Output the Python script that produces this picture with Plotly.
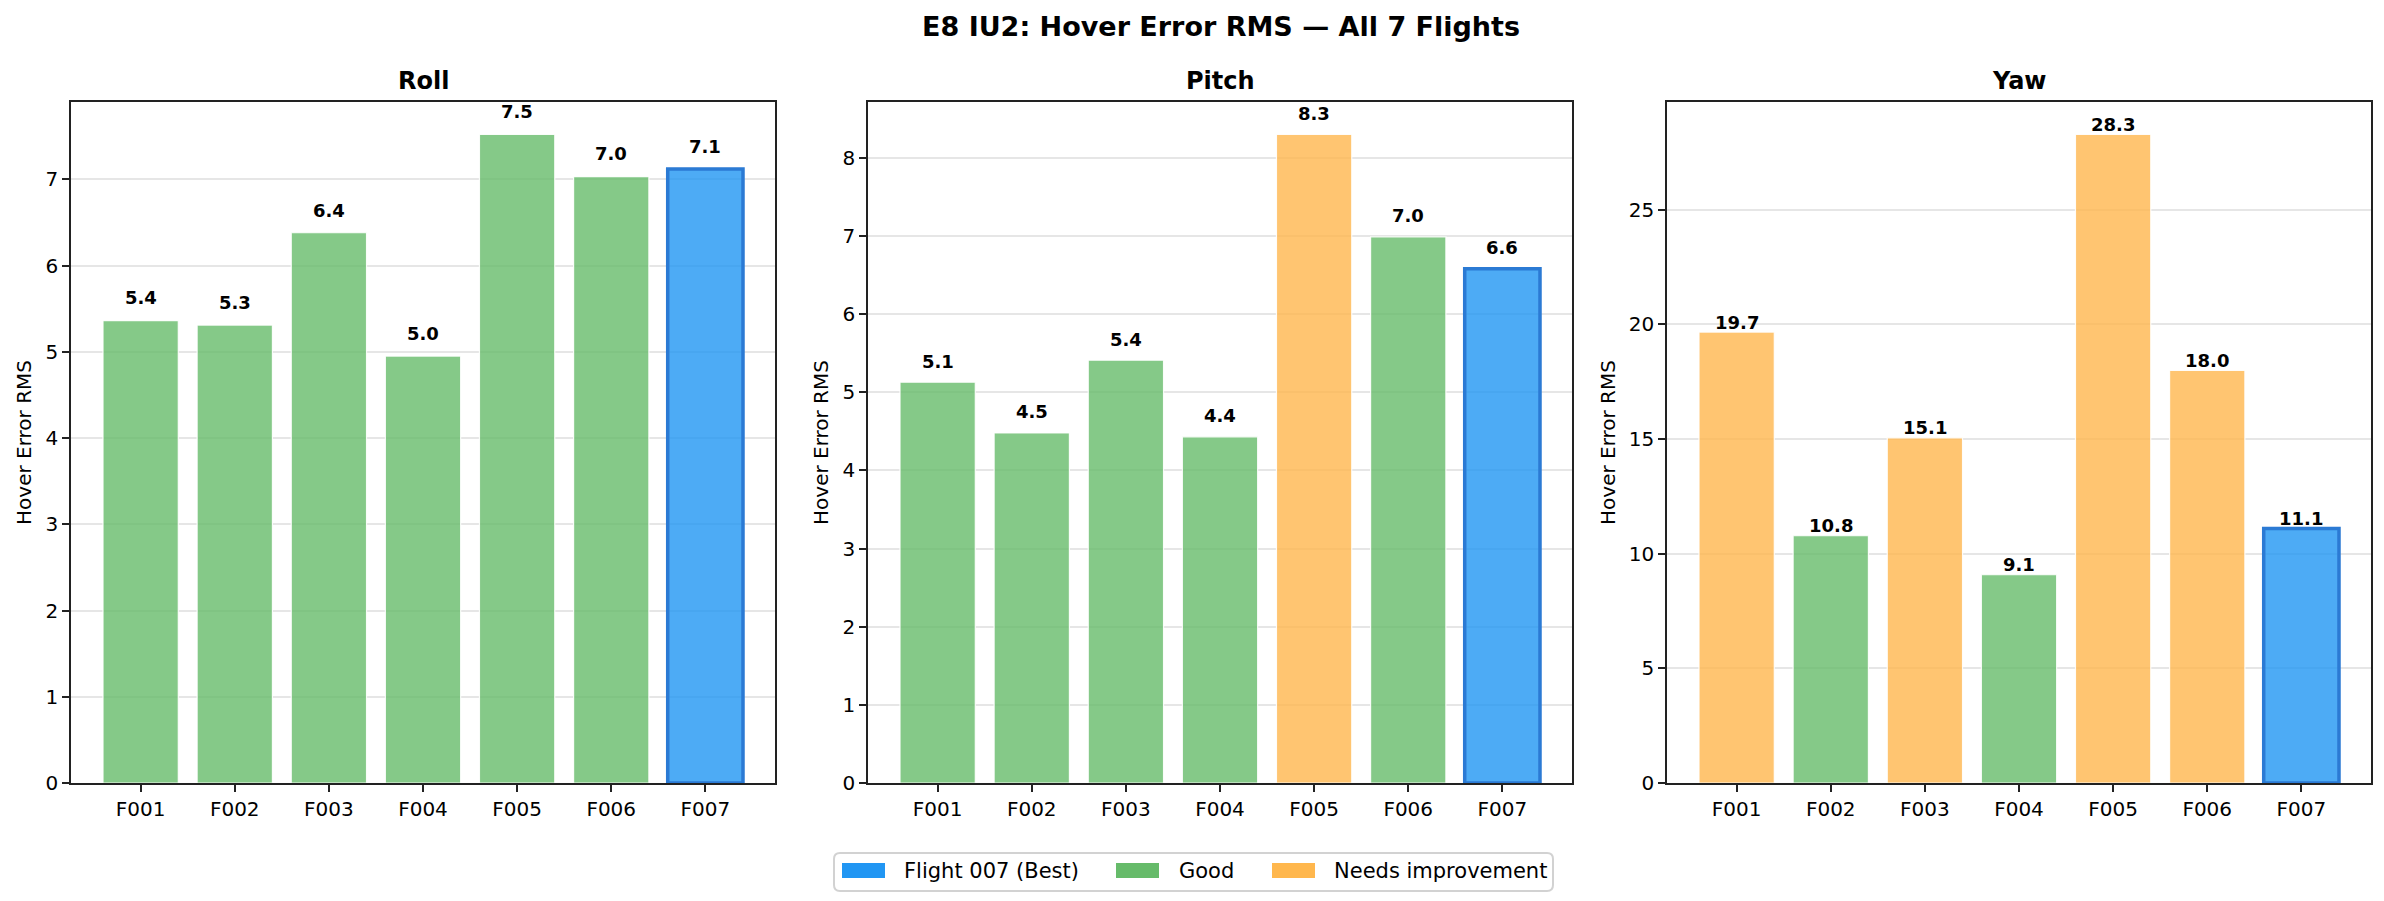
import plotly.graph_objects as go

flights = ["F001", "F002", "F003", "F004", "F005", "F006", "F007"]
roll_rms = [5.36, 5.31, 6.38, 4.95, 7.52, 7.03, 7.12]
pitch_rms = [5.13, 4.48, 5.41, 4.43, 8.30, 6.99, 6.58]
yaw_rms = [19.66, 10.78, 15.05, 9.08, 28.28, 17.99, 11.10]
roll_status = ["good", "good", "good", "good", "good", "good", "best"]
pitch_status = ["good", "good", "good", "good", "needs", "good", "best"]
yaw_status = ["needs", "good", "needs", "good", "needs", "needs", "best"]
panel_titles = ["Roll", "Pitch", "Yaw"]
legend_keys = ["best", "good", "needs"]
legend_names = {"best": "Flight 007 (Best)", "good": "Good", "needs": "Needs improvement"}

solid = {"best": "#2196F3", "good": "#66BB6A", "needs": "#FFB74D"}
fill = {"best": "rgba(33,150,243,0.8)", "good": "rgba(102,187,106,0.8)", "needs": "rgba(255,183,77,0.8)"}
edge = {"best": "#2B7AD4", "good": "rgba(255,255,255,0.9)", "needs": "rgba(255,255,255,0.9)"}
edge_w = {"best": 3.5, "good": 1.2, "needs": 1.2}

FONT = "DejaVu Sans"
OFF = 8  # browser body margin
# absolute page-pixel layout of the plotting area
PX_L, PX_R, PX_T, PX_B = 71, 2371, 102, 783
W, H = 2384 - OFF, 901 - OFF
ML, MR, MT, MB = PX_L - OFF, 2384 - PX_R, PX_T - OFF, 901 - PX_B
pw = PX_R - PX_L
ph = PX_B - PX_T


def px_x(X):
    return (X - PX_L) / pw


def px_y(Y):
    return (PX_B - Y) / ph


panel_px = [(71, 775), (868, 1572), (1667, 2371)]
domains = [(px_x(a), px_x(b)) for a, b in panel_px]

fig = go.Figure()
panels = [roll_rms, pitch_rms, yaw_rms]
statuses = [roll_status, pitch_status, yaw_status]
annotations = []
shapes = []

for k, (vals, st) in enumerate(zip(panels, statuses)):
    xa = "x" if k == 0 else f"x{k+1}"
    ya = "y" if k == 0 else f"y{k+1}"
    fig.add_trace(go.Bar(
        x=list(range(len(flights))), y=vals, width=0.8,
        marker=dict(color=[fill[s] for s in st],
                    line=dict(color=[edge[s] for s in st], width=[edge_w[s] for s in st])),
        xaxis=xa, yaxis=ya, showlegend=False, hoverinfo="skip",
    ))
    for i, v in enumerate(vals):
        annotations.append(dict(
            x=i, y=v + 0.2, xref=xa, yref=ya, text=f"<b>{v:.1f}</b>",
            showarrow=False, yanchor="bottom", xanchor="center", yshift=-7,
            font=dict(family=FONT, size=18, color="black"),
        ))
    d = domains[k]
    annotations.append(dict(
        x=(d[0] + d[1]) / 2, y=1.0, xref="paper", yref="paper",
        text=f"<b>{panel_titles[k]}</b>", showarrow=False,
        xanchor="center", yanchor="bottom", yshift=5,
        font=dict(family=FONT, size=24, color="black"),
    ))
    axis_common = dict(
        showline=True, linecolor="#222222", linewidth=1.7, mirror=True,
        ticks="outside", ticklen=7, tickwidth=1.7, tickcolor="#222222",
        tickfont=dict(family=FONT, size=20, color="black"),
        zeroline=False,
    )
    xkey = "xaxis" if k == 0 else f"xaxis{k+1}"
    ykey = "yaxis" if k == 0 else f"yaxis{k+1}"
    fig.layout[xkey] = dict(
        domain=list(d), anchor=ya, range=[-0.74, len(flights) - 0.26],
        tickmode="array", tickvals=list(range(len(flights))), ticktext=flights,
        showgrid=False, **axis_common,
    )
    fig.layout[ykey] = dict(
        domain=[0, 1], anchor=xa, range=[0, max(vals) * 1.05],
        showgrid=True, gridcolor="#e6e6e6", gridwidth=1.5,
        title=dict(text="Hover Error RMS", font=dict(family=FONT, size=20, color="black"), standoff=8),
        **axis_common,
    )

# legend (drawn manually to match rectangular patches)
box = (834, 1553, 853, 891)
r = 6
x0, x1, y0, y1 = box
rx, ry = r / pw, r / ph
X0, X1, Y0, Y1 = px_x(x0), px_x(x1), px_y(y1), px_y(y0)
path = (f"M {X0+rx},{Y0} L {X1-rx},{Y0} Q {X1},{Y0} {X1},{Y0+ry} L {X1},{Y1-ry} "
        f"Q {X1},{Y1} {X1-rx},{Y1} L {X0+rx},{Y1} Q {X0},{Y1} {X0},{Y1-ry} "
        f"L {X0},{Y0+ry} Q {X0},{Y0} {X0+rx},{Y0} Z")
shapes.append(dict(type="path", xref="paper", yref="paper", path=path,
                   line=dict(color="#d2d2d2", width=2), fillcolor="white", layer="above"))
patch_x = [842, 1116, 1272]
text_x = [902, 1177, 1332]
for key, px0, tx in zip(legend_keys, patch_x, text_x):
    shapes.append(dict(type="rect", xref="paper", yref="paper",
                       x0=px_x(px0), x1=px_x(px0 + 43), y0=px_y(878), y1=px_y(863),
                       fillcolor=solid[key], line=dict(width=0), layer="above"))
    annotations.append(dict(
        x=px_x(tx), y=px_y(871), xref="paper", yref="paper", text=legend_names[key],
        showarrow=False, xanchor="left", yanchor="middle",
        font=dict(family=FONT, size=21, color="black"),
    ))

annotations.append(dict(
    x=0.5, y=1.0, xref="paper", yref="paper", text="<b>E8 IU2: Hover Error RMS — All 7 Flights</b>",
    showarrow=False, xanchor="center", yanchor="middle", yshift=(PX_T - 26),
    font=dict(family=FONT, size=27, color="black"),
))

fig.update_layout(
    width=W, height=H,
    margin=dict(l=ML, r=MR, t=MT, b=MB),
    paper_bgcolor="white", plot_bgcolor="white",
    annotations=annotations, shapes=shapes,
    barmode="overlay", showlegend=False,
)

fig.write_html("out.html")
